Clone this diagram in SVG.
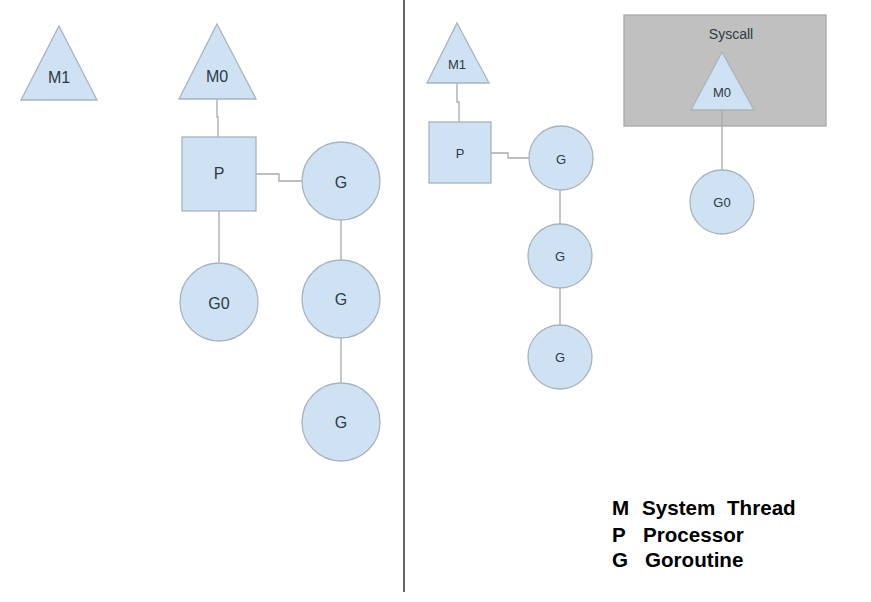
<svg xmlns="http://www.w3.org/2000/svg" width="871" height="602" viewBox="0 0 871 602">
<style>
.n{fill:#cfe2f3;stroke:#a8b4bd;stroke-width:1.3}
.c{fill:none;stroke:#a9a9a9;stroke-width:1.3}
.t{font-family:"Liberation Sans",Arial,sans-serif;fill:#2d3a44;text-anchor:middle;dominant-baseline:central}
.l{font-size:16px}
.s{font-size:13px}
.lg{font-family:"Liberation Sans",Arial,sans-serif;font-weight:bold;font-size:20.6px;fill:#000}
</style>
<rect width="871" height="602" fill="#fff"/>
<line x1="404" y1="0" x2="404" y2="592" stroke="#333" stroke-width="1.5"/>
<g id="syscall">
<rect x="624" y="15" width="202" height="111" fill="#c0c0c0" stroke="#a8a8a8" stroke-width="1.3"/>
<text class="t" x="731" y="34" font-size="14">Syscall</text>
</g>
<g id="connectors">
<path class="c" d="M217 99V117H218V137"/>
<path class="c" d="M256 174H279V181H302"/>
<path class="c" d="M219 211V262"/>
<path class="c" d="M341 220V260"/>
<path class="c" d="M341 338V383"/>
<path class="c" d="M457 83V102H459V122"/>
<path class="c" d="M491 153H508V158H529"/>
<path class="c" d="M560 190V224"/>
<path class="c" d="M560 288V325"/>
<path class="c" d="M722 110V170"/>
</g>
<g id="m1-left"><polygon class="n" points="59,26 97,100 21,100"/><text class="t l" x="59" y="77">M1</text></g>
<g id="m0-left"><polygon class="n" points="217,24 256,99 179,99"/><text class="t l" x="217" y="76">M0</text></g>
<g id="p-left"><rect class="n" x="182" y="137" width="74" height="74"/><text class="t l" x="219" y="173">P</text></g>
<g id="g1-left"><circle class="n" cx="341" cy="181" r="39"/><text class="t l" x="341" y="182">G</text></g>
<g id="g0-left"><circle class="n" cx="219" cy="302" r="39"/><text class="t l" x="219" y="303">G0</text></g>
<g id="g2-left"><circle class="n" cx="341" cy="299" r="39"/><text class="t l" x="341" y="299">G</text></g>
<g id="g3-left"><circle class="n" cx="341" cy="422" r="39"/><text class="t l" x="341" y="422">G</text></g>
<g id="m1-right"><polygon class="n" points="457,23 489,83 427,83"/><text class="t s" x="457" y="64">M1</text></g>
<g id="p-right"><rect class="n" x="429" y="122" width="62" height="61"/><text class="t s" x="460" y="153">P</text></g>
<g id="g1-right"><circle class="n" cx="561" cy="158" r="32"/><text class="t s" x="561" y="159">G</text></g>
<g id="g2-right"><circle class="n" cx="560" cy="256" r="32"/><text class="t s" x="560" y="256">G</text></g>
<g id="g3-right"><circle class="n" cx="560" cy="357" r="32"/><text class="t s" x="560" y="357">G</text></g>
<g id="m0-right"><polygon class="n" points="722,52 754,110 691,110"/><text class="t s" x="722" y="92">M0</text></g>
<g id="g0-right"><circle class="n" cx="722" cy="202" r="32"/><text class="t s" x="722" y="202">G0</text></g>
<g id="legend">
<text class="lg" y="515"><tspan x="612">M</tspan><tspan x="642">System</tspan><tspan x="727">Thread</tspan></text>
<text class="lg" y="542"><tspan x="612">P</tspan><tspan x="643">Processor</tspan></text>
<text class="lg" y="567"><tspan x="612">G</tspan><tspan x="645">Goroutine</tspan></text>
</g>
</svg>
